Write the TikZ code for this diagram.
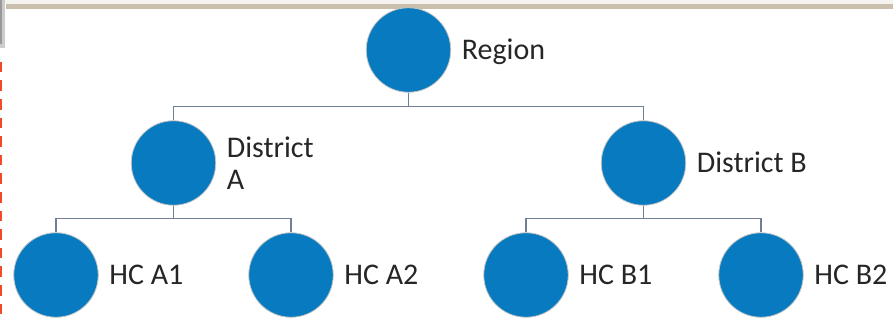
\documentclass[tikz,border=0pt]{standalone}
\usepackage{fontspec}
\setmainfont{Carlito}
\usepackage{tikz}
\definecolor{hubblue}{RGB}{8,123,192}
\definecolor{linkgray}{RGB}{112,126,150}
\definecolor{bandtan}{RGB}{201,191,172}
\definecolor{bandpale}{RGB}{244,243,240}
\definecolor{dashred}{RGB}{240,74,42}
\tikzstyle{unit} = [circle, draw=gray!45, line width=0.8pt, fill=hubblue,
    minimum size=84.5pt, inner sep=0pt]
\tikzstyle{tag} = [anchor=west, inner sep=0pt, xshift=10.5pt, text=black!85,
    text height=19.3pt, text depth=0pt, font=\fontsize{30}{32}\selectfont]
\tikzstyle{tagwrap} = [anchor=west, inner sep=0pt, xshift=10.5pt, text=black!85,
    align=left, font=\fontsize{30}{32}\selectfont]
\tikzstyle{link} = [draw=linkgray, line width=1.1pt]

\begin{document}
\begin{tikzpicture}[x=1pt, y=-1pt]
    \useasboundingbox (0,0) rectangle (893,321);
    % page frame bits
    \fill[bandpale] (5,0) rectangle (893,4.5);
    \fill[bandtan] (6,4.5) rectangle (893,9.5);
    \fill[gray!40] (0,0) rectangle (5,48);
    \fill[gray!80] (0,0) rectangle (2,44);
    \draw[dashred, line width=2pt, dash pattern=on 10.7pt off 7.9pt] (1,61.7) -- (1,321);

    \node[unit] (reg) at (408.5,50) {};
    \node[unit] (da) at (173.5,163) {};
    \node[unit] (db) at (643.5,163) {};
    \node[unit] (ha1) at (56,275) {};
    \node[unit] (ha2) at (291,275) {};
    \node[unit] (hb1) at (526,275) {};
    \node[unit] (hb2) at (761,275) {};

    \node[tag] (lreg) at (reg.east) {Region};
    \node[tagwrap] (lda) at (da.east) {District\\A};
    \node[tag] (ldb) at (db.east) {District B};
    \node[tag] (lha1) at (ha1.east) {HC A1};
    \node[tag] (lha2) at (ha2.east) {HC A2};
    \node[tag] (lhb1) at (hb1.east) {HC B1};
    \node[tag] (lhb2) at (hb2.east) {HC B2};

    \path[link] (reg.south) -- ++(0,13.7) -| (da.north);
    \path[link] (reg.south) -- ++(0,13.7) -| (db.north);
    \path[link] (da.south) -- ++(0,12.6) -| (ha1.north);
    \path[link] (da.south) -- ++(0,12.6) -| (ha2.north);
    \path[link] (db.south) -- ++(0,12.6) -| (hb1.north);
    \path[link] (db.south) -- ++(0,12.6) -| (hb2.north);
\end{tikzpicture}
\end{document}
